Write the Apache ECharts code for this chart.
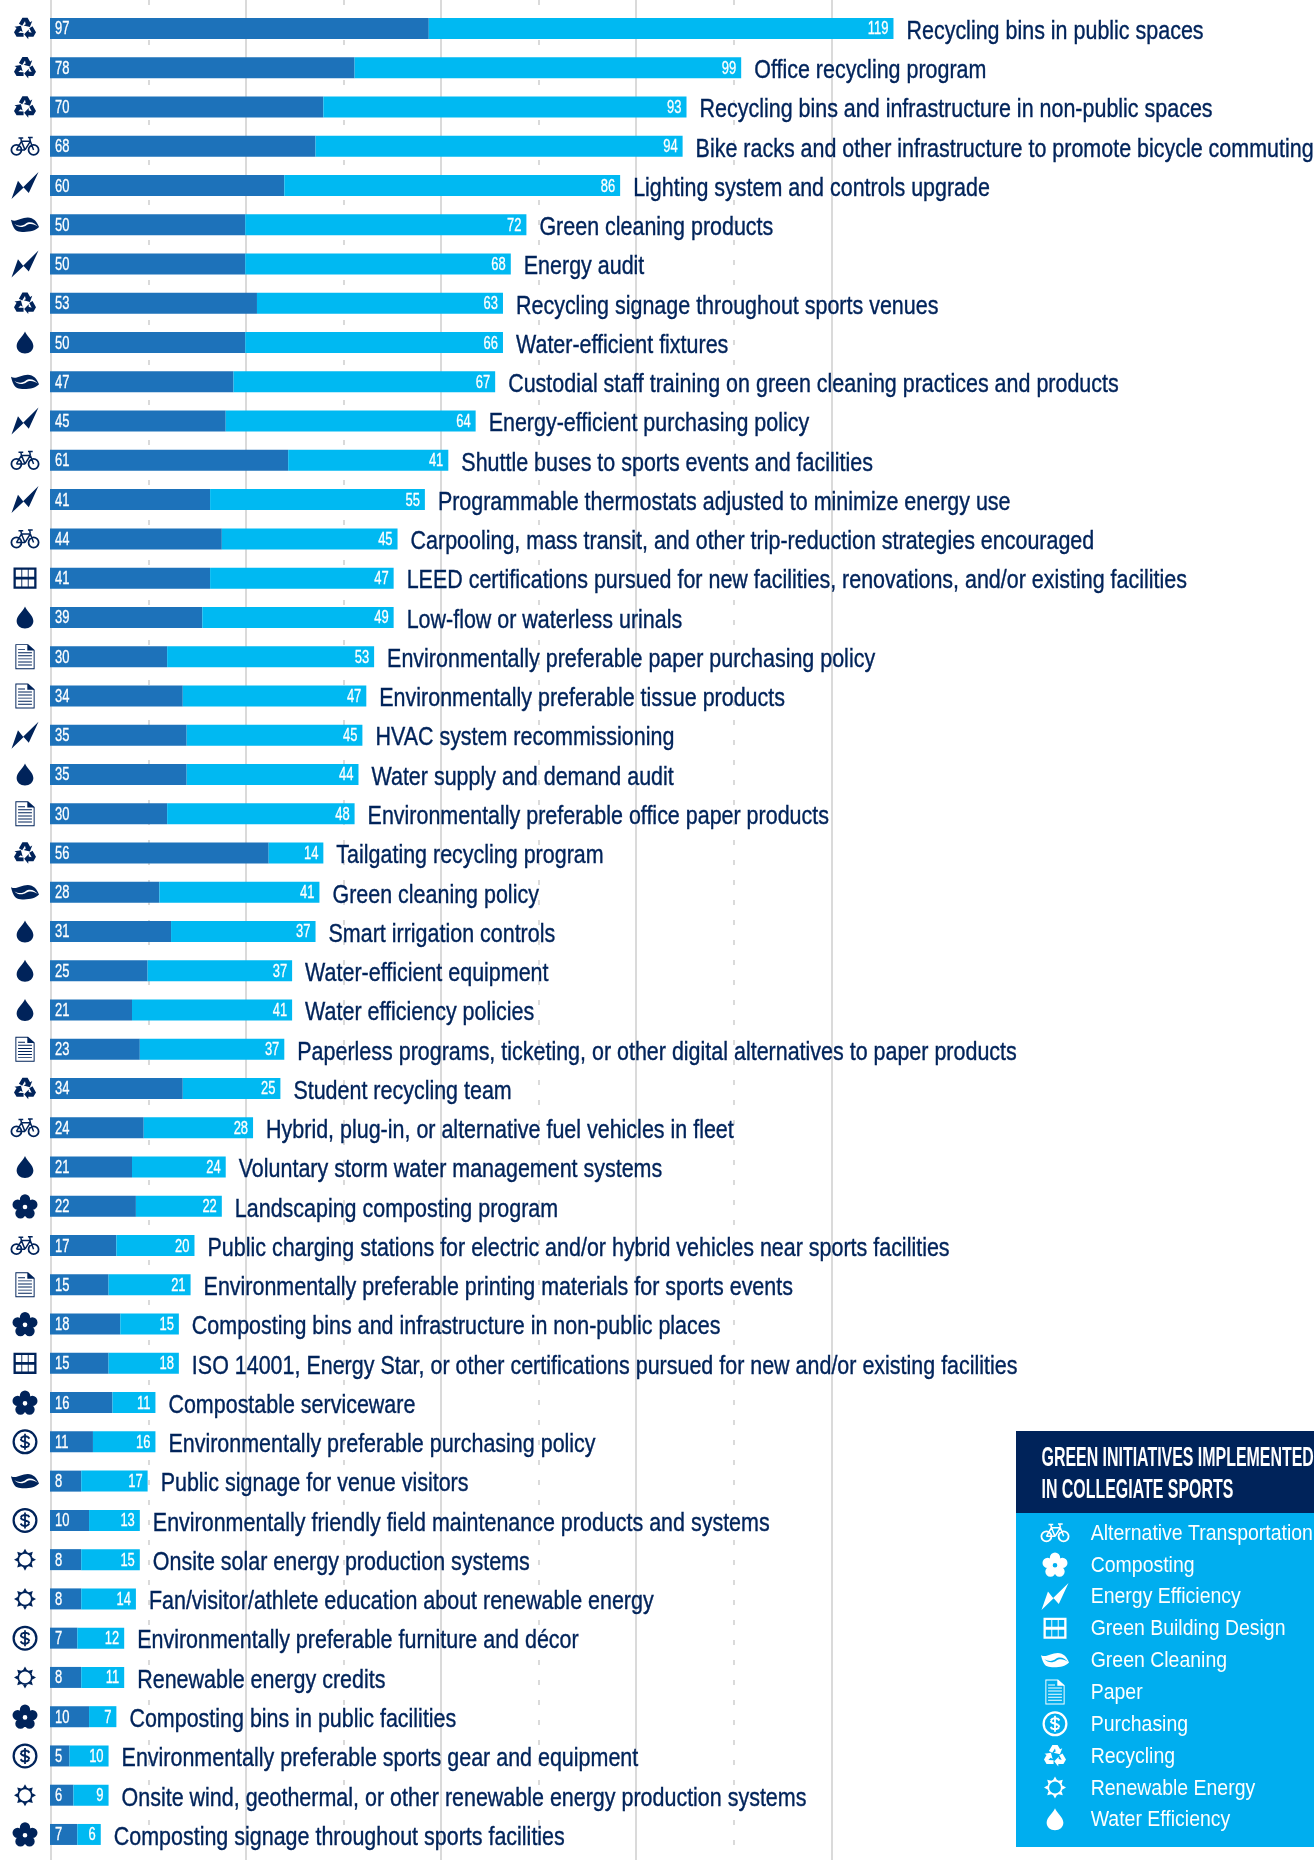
<!DOCTYPE html>
<html><head><meta charset="utf-8">
<style>html,body{margin:0;padding:0;background:#fff}#c{width:1314px;height:1860px}</style>
<script src="https://cdn.jsdelivr.net/npm/echarts@6/dist/echarts.min.js"></script>
</head><body><div id="c"></div>
<script>
const initiatives = ["Recycling bins in public spaces","Office recycling program","Recycling bins and infrastructure in non-public spaces","Bike racks and other infrastructure to promote bicycle commuting","Lighting system and controls upgrade","Green cleaning products","Energy audit","Recycling signage throughout sports venues","Water-efficient fixtures","Custodial staff training on green cleaning practices and products","Energy-efficient purchasing policy","Shuttle buses to sports events and facilities","Programmable thermostats adjusted to minimize energy use","Carpooling, mass transit, and other trip-reduction strategies encouraged","LEED certifications pursued for new facilities, renovations, and/or existing facilities","Low-flow or waterless urinals","Environmentally preferable paper purchasing policy","Environmentally preferable tissue products","HVAC system recommissioning","Water supply and demand audit","Environmentally preferable office paper products","Tailgating recycling program","Green cleaning policy","Smart irrigation controls","Water-efficient equipment","Water efficiency policies","Paperless programs, ticketing, or other digital alternatives to paper products","Student recycling team","Hybrid, plug-in, or alternative fuel vehicles in fleet","Voluntary storm water management systems","Landscaping composting program","Public charging stations for electric and/or hybrid vehicles near sports facilities","Environmentally preferable printing materials for sports events","Composting bins and infrastructure in non-public places","ISO 14001, Energy Star, or other certifications pursued for new and/or existing facilities","Compostable serviceware","Environmentally preferable purchasing policy","Public signage for venue visitors","Environmentally friendly field maintenance products and systems","Onsite solar energy production systems","Fan/visitor/athlete education about renewable energy","Environmentally preferable furniture and décor","Renewable energy credits","Composting bins in public facilities","Environmentally preferable sports gear and equipment","Onsite wind, geothermal, or other renewable energy production systems","Composting signage throughout sports facilities"];
const darkValues = [97,78,70,68,60,50,50,53,50,47,45,61,41,44,41,39,30,34,35,35,30,56,28,31,25,21,23,34,24,21,22,17,15,18,15,16,11,8,10,8,8,7,8,10,5,6,7];
const lightValues = [119,99,93,94,86,72,68,63,66,67,64,41,55,45,47,49,53,47,45,44,48,14,41,37,37,41,37,25,28,24,22,20,21,15,18,11,16,17,13,15,14,12,11,7,10,9,6];
const rowTypes = ["Recycling","Recycling","Recycling","Alternative Transportation","Energy Efficiency","Green Cleaning","Energy Efficiency","Recycling","Water Efficiency","Green Cleaning","Energy Efficiency","Alternative Transportation","Energy Efficiency","Alternative Transportation","Green Building Design","Water Efficiency","Paper","Paper","Energy Efficiency","Water Efficiency","Paper","Recycling","Green Cleaning","Water Efficiency","Water Efficiency","Water Efficiency","Paper","Recycling","Alternative Transportation","Water Efficiency","Composting","Alternative Transportation","Paper","Composting","Green Building Design","Composting","Purchasing","Green Cleaning","Purchasing","Renewable Energy","Renewable Energy","Purchasing","Renewable Energy","Composting","Purchasing","Renewable Energy","Composting"];
const types = ["Alternative Transportation","Composting","Energy Efficiency","Green Building Design","Green Cleaning","Paper","Purchasing","Recycling","Renewable Energy","Water Efficiency"];

const NAVY = '#00235A', DARK = '#1D72BA', LIGHT = '#00B9F2', PANEL = '#00AEEF', GRID = '#DADADA';
const FONT = '"Liberation Sans",sans-serif';

const circ = (x,y,r,hole) => { const s = hole?0:1; return `M${x-r} ${y}A${r} ${r} 0 1 ${s} ${x+r} ${y}A${r} ${r} 0 1 ${s} ${x-r} ${y}Z`; };
const seg = (a,b,c,d,w) => { const l=Math.hypot(c-a,d-b), nx=-(d-b)/l*w/2, ny=(c-a)/l*w/2;
  return `M${a-nx} ${b-ny}L${c-nx} ${d-ny}L${c+nx} ${d+ny}L${a+nx} ${b+ny}Z`; };
const poly = (pts,w) => { let s=''; for(let i=0;i<pts.length-1;i++) s+=seg(pts[i][0],pts[i][1],pts[i+1][0],pts[i+1][1],w); return s; };
const rot = (pts,deg) => { const t=deg*Math.PI/180,c=Math.cos(t),n=Math.sin(t);
  return 'M'+pts.map(p=>{const x=p[0]-50,y=p[1]-50;return `${50+x*c-y*n} ${50+x*n+y*c}`;}).join('L')+'Z'; };
const rect = (x,y,w,h,hole) => hole ? `M${x} ${y}L${x} ${y+h}L${x+w} ${y+h}L${x+w} ${y}Z` : `M${x} ${y}L${x+w} ${y}L${x+w} ${y+h}L${x} ${y+h}Z`;

const arrow = [[24,28],[39,2],[61,2],[72,21],[81,16],[71,42],[44,35],[53,30],[50,17],[38,36]];
const sunSpike = [[50,0],[59,16],[41,16]];
const icons = {
  "Alternative Transportation": { size:29, path:
    circ(21,47,20)+circ(21,47,14,true)+circ(79,47,20)+circ(79,47,14,true)+
    poly([[21,47],[38,18],[68,18],[79,47]],5)+poly([[21,47],[50,47],[68,18]],5)+poly([[38,18],[50,47]],5)+
    seg(36,8,38,18,5)+seg(28,7,44,7,5)+seg(66,6,68,18,5)+seg(60,5,76,5,5) },
  "Composting": { size:25, path:
    [0,72,144,216,288].map(a=>{const t=(a-90)*Math.PI/180;return circ(50+30*Math.cos(t),52+30*Math.sin(t),20);}).join('')+circ(50,52,15)+circ(50,52,9,true) },
  "Energy Efficiency": { size:27, path:'M0 100L24 32L43 56L100 0L64 78L45 57Z' },
  "Green Building Design": { size:23, path:
    rect(0,0,100,92)+[10,38,66].map(x=>[10,52].map(y=>rect(x,y,24,30,true)).join('')).join('') },
  "Green Cleaning": { size:28, path:
    'M0 8C20 18 35 0 60 0C80 0 94 16 100 34C88 50 45 56 22 48C10 44 4 24 0 8Z'+
    'M12 22C24 36 42 36 54 28C66 20 82 22 96 32C86 20 68 10 52 22C45 28 30 34 12 22Z' },
  "Paper": { size:25, path:
    'M0 0L66 0L100 30L100 130L0 130Z'+'M5 5L5 125L95 125L95 33L62 33L62 5Z'+
    rect(14,26,36,5)+rect(14,42,72,5)+rect(14,58,72,5)+rect(14,74,72,5)+rect(14,90,72,5)+rect(14,106,72,5)+
    seg(62,3,97,33,5) },
  "Purchasing": { size:25, path:
    circ(50,50,50)+circ(50,50,41,true)+
    poly([[68,37],[60,29],[41,29],[33,37],[36,45],[50,50],[64,55],[67,63],[59,71],[40,71],[32,63]],8)+seg(50,18,50,82,7) },
  "Recycling": { size:22, path: [0,120,240].map(d=>rot(arrow,d)).join('') },
  "Renewable Energy": { size:22, path:
    circ(50,50,35)+circ(50,50,27,true)+[0,45,90,135,180,225,270,315].map(d=>rot(sunSpike,d)).join('') },
  "Water Efficiency": { size:22, path:
    'M50 0C58 22 88 40 88 66C88 86 71 100 50 100C29 100 12 86 12 66C12 40 42 22 50 0Z' }
};

const rowIdx = initiatives.map((_,i)=>i);
const rowHeight = 39.26, firstBandTop = 28.5 - rowHeight/2, plotHeight = rowHeight*initiatives.length;
const catAxis = { type:'category', data:rowIdx, inverse:true, show:false };
const pxPerUnit = 781/200, barAxisMax = 250;
const legendRow = 31.85, legendFirstY = 1532.7;

const textAt = (x,y,text,font,fill,scaleX,align,weight) => ({ type:'text', x, y, scaleX,
  style:{ text, font, fill, stroke: weight?fill:null, lineWidth: weight||0, textVerticalAlign:'middle', textAlign:align||'left' } });

const legendTexts = types.map((t,k)=>Object.assign({z:5},
  textAt(1090.7, legendFirstY+legendRow*k+1, t, '22px '+FONT, '#fff', .885)));

const option = {
  animation:false,
  backgroundColor:'#fff',
  grid:[
    { left:50, width:pxPerUnit*barAxisMax, top:firstBandTop, height:plotHeight },
    { left:50.7, width:780.6, top:0, height:1860, z:0 },
    { left:0, width:50, top:firstBandTop, height:plotHeight },
    { left:1020, width:70, top:legendFirstY-legendRow/2, height:legendRow*types.length }
  ],
  xAxis:[
    { gridIndex:0, type:'value', min:0, max:barAxisMax, show:false },
    { gridIndex:1, type:'value', min:0, max:200, interval:50,
      axisLine:{show:false}, axisTick:{show:false}, axisLabel:{show:false},
      splitLine:{show:true, lineStyle:{color:GRID, width:2}},
      minorTick:{show:false, splitNumber:2},
      minorSplitLine:{show:true, lineStyle:{color:GRID, width:2, type:[5,15]}} },
    { gridIndex:2, type:'value', min:0, max:1, show:false },
    { gridIndex:3, type:'value', min:0, max:1, show:false }
  ],
  yAxis:[
    Object.assign({gridIndex:0},catAxis),
    { gridIndex:1, type:'value', min:0, max:1, show:false },
    Object.assign({gridIndex:2},catAxis),
    { gridIndex:3, type:'category', data:types, inverse:true, show:false }
  ],
  graphic:[
    { type:'rect', z:3, shape:{x:1016,y:1431,width:298,height:82}, style:{fill:NAVY} },
    { type:'rect', z:3, shape:{x:1016,y:1513,width:298,height:334}, style:{fill:PANEL} },
    Object.assign({z:5}, textAt(1041.5,1459,'GREEN INITIATIVES IMPLEMENTED','bold 27px '+FONT,'#fff',.59)),
    Object.assign({z:5}, textAt(1041.5,1491,'IN COLLEGIATE SPORTS','bold 27px '+FONT,'#fff',.59))
  ].concat(legendTexts),
  series:[
    { name:'dark', type:'bar', stack:'n', xAxisIndex:0, yAxisIndex:0, data:darkValues, barWidth:21,
      itemStyle:{color:DARK}, silent:true, z:3 },
    { name:'light', type:'bar', stack:'n', xAxisIndex:0, yAxisIndex:0, data:lightValues, barWidth:21,
      itemStyle:{color:LIGHT}, silent:true, z:3 },
    { name:'darkLabels', type:'custom', xAxisIndex:0, yAxisIndex:0, silent:true, z:4, clip:false,
      data:darkValues.map((v,i)=>[0,i,v]), encode:{x:0,y:1},
      renderItem:(params,api)=>{ const p=api.coord([api.value(0),api.value(1)]);
        return textAt(p[0]+5,p[1]+1,String(api.value(2)),'18px '+FONT,'#fff',.72,'left',.3); } },
    { name:'lightLabels', type:'custom', xAxisIndex:0, yAxisIndex:0, silent:true, z:4, clip:false,
      data:lightValues.map((v,i)=>[darkValues[i]+v,i,v]), encode:{x:0,y:1},
      renderItem:(params,api)=>{ const p=api.coord([api.value(0),api.value(1)]);
        return textAt(p[0]-5,p[1]+1,String(api.value(2)),'18px '+FONT,'#fff',.72,'right',.3); } },
    { name:'names', type:'custom', xAxisIndex:0, yAxisIndex:0, silent:true, z:4, clip:false,
      data:initiatives.map((n,i)=>[darkValues[i]+lightValues[i], i]), encode:{x:0,y:1},
      renderItem:(params,api)=>{ const p=api.coord([api.value(0),api.value(1)]);
        return textAt(p[0]+13,p[1]+3,initiatives[params.dataIndex],'26.5px '+FONT,NAVY,.81,'left',.4); } }
  ].concat(types.map(t=>({
    name:t, type:'scatter', xAxisIndex:2, yAxisIndex:2, silent:true, z:3,
    symbol:'path://'+icons[t].path, symbolSize:icons[t].size, symbolKeepAspect:true,
    itemStyle:{color:NAVY, opacity:1},
    data:rowIdx.filter(i=>rowTypes[i]===t).map(i=>[0.5,i])
  }))).concat(types.map((t,k)=>({
    name:t+' key', type:'scatter', xAxisIndex:3, yAxisIndex:3, silent:true, z:6,
    symbol:'path://'+icons[t].path, symbolSize:icons[t].size, symbolKeepAspect:true,
    itemStyle:{color:'#fff', opacity:1},
    data:[[0.5,k]]
  })))
};
echarts.init(document.getElementById('c')).setOption(option);
</script></body></html>
